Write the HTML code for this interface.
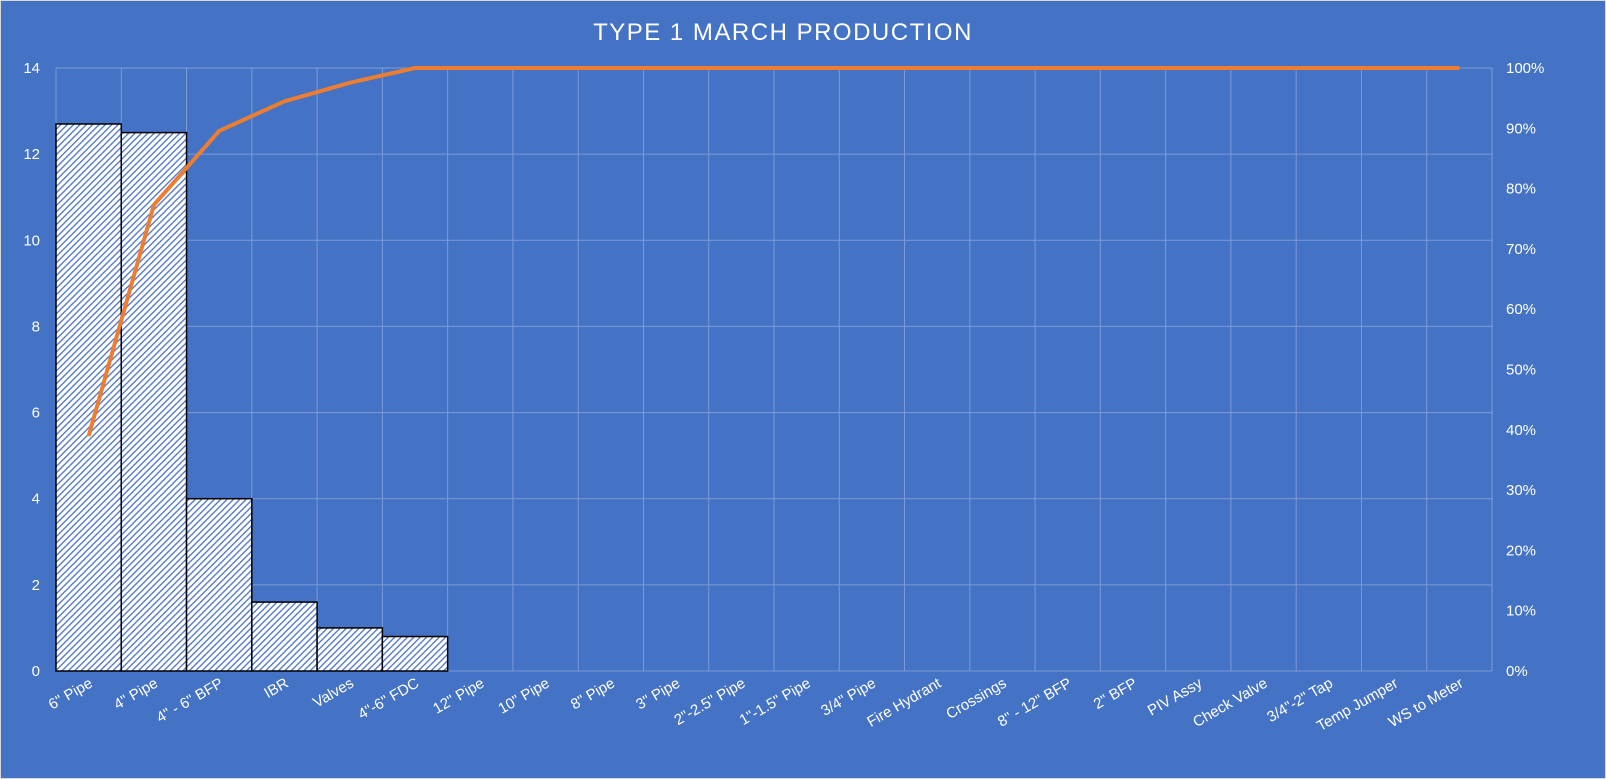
<!DOCTYPE html>
<html><head><meta charset="utf-8"><style>
html,body{margin:0;padding:0;background:#4472C4;}
svg{display:block;font-family:"Liberation Sans",sans-serif;}
</style></head><body>
<svg id="chart" width="1606" height="779" viewBox="0 0 1606 779">
<defs>
<pattern id="hatch" width="4.5" height="4.5" patternUnits="userSpaceOnUse" patternTransform="rotate(45)">
<rect width="4.5" height="4.5" fill="#ffffff"/>
<rect x="0" y="0" width="1.3" height="4.5" fill="#4a72c8"/>
</pattern>
</defs>
<rect x="0" y="0" width="1606" height="779" fill="#4472C4"/>
<rect x="0.5" y="0.5" width="1605" height="778" fill="none" stroke="#d9d9d9" stroke-width="1"/>
<text x="783" y="40" text-anchor="middle" fill="#fff" font-size="24" letter-spacing="1.5">TYPE 1 MARCH PRODUCTION</text>
<g id="grid"></g><g id="bars"></g><g id="line"></g><g id="axes"></g>
</svg>
<script>
const categories=['6" Pipe','4" Pipe','4" - 6" BFP','IBR','Valves','4"-6" FDC','12" Pipe','10" Pipe','8" Pipe','3" Pipe','2"-2.5" Pipe','1"-1.5" Pipe','3/4" Pipe','Fire Hydrant','Crossings','8" - 12" BFP','2" BFP','PIV Assy','Check Valve','3/4"-2" Tap','Temp Jumper','WS to Meter'];
const values=[12.7,12.5,4,1.6,1,0.8,0,0,0,0,0,0,0,0,0,0,0,0,0,0,0,0];
const leftTicks=[0,2,4,6,8,10,12,14];
const rightTicks=[0,10,20,30,40,50,60,70,80,90,100];
const NS="http://www.w3.org/2000/svg";
const X0=56,X1=1492,Y0=671,Y1=68;
const bw=(X1-X0)/categories.length;
const xC=i=>X0+bw*(i+0.5);
const yL=v=>Y0-(v/14)*(Y0-Y1);
const yR=p=>Y0-(p/100)*(Y0-Y1);
function mk(tag,attrs,parent){const e=document.createElementNS(NS,tag);for(const k in attrs)e.setAttribute(k,attrs[k]);document.getElementById(parent).appendChild(e);return e;}
leftTicks.forEach(t=>{const l=mk('line',{x1:X0,x2:X1,y1:yL(t),y2:yL(t),stroke:'#7d9bd6','stroke-width':1},'grid');

});
for(let i=0;i<=categories.length;i++){const l=mk('line',{x1:X0+bw*i,x2:X0+bw*i,y1:Y1,y2:Y0,stroke:'#7d9bd6','stroke-width':1},'grid');

}
values.forEach((v,i)=>{if(v<=0)return;const r=mk('rect',{x:X0+bw*i,y:yL(v),width:bw,height:Y0-yL(v),fill:'url(#hatch)',stroke:'#000','stroke-width':1.5},'bars');

});
const total=values.reduce((a,b)=>a+b,0);let c=0;const pts=values.map((v,i)=>{c+=v;return xC(i)+','+yR(c/total*100);});
const pl=mk('polyline',{points:pts.join(' '),fill:'none',stroke:'#ED7D31','stroke-width':4,'stroke-linejoin':'round'},'line');


leftTicks.forEach(t=>{const e=mk('text',{x:40,y:yL(t)+5,'text-anchor':'end',fill:'#fff','font-size':15},'axes');e.textContent=t;

});
rightTicks.forEach(t=>{const e=mk('text',{x:1506,y:yR(t)+5,fill:'#fff','font-size':15},'axes');e.textContent=t+'%';

});
categories.forEach((n,i)=>{const x=xC(i)+5,y=686;const e=mk('text',{x:x,y:y,'text-anchor':'end',fill:'#fff','font-size':15,transform:`rotate(-30 ${x} ${y})`},'axes');e.textContent=n;

});
</script>
</body></html>
